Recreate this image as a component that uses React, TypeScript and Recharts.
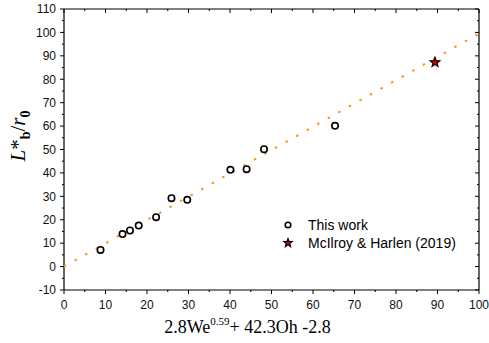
import React from 'react';
import { ScatterChart, Scatter, XAxis, YAxis } from 'recharts';

const thisWorkX = [8.8, 14.1, 15.9, 18.0, 22.2, 25.9, 29.7, 40.1, 44.0, 48.2, 65.3];
const thisWorkY = [7.1, 13.9, 15.4, 17.5, 21.1, 29.2, 28.5, 41.3, 41.6, 50.1, 60.1];
const mcIlroyX = [89.4];
const mcIlroyY = [87.2];
// linear fit endpoints
const fitX = [0, 100];
const fitY = [0, 99.5];

const xTicks = [0, 5, 10, 15, 20, 25, 30, 35, 40, 45, 50, 55, 60, 65, 70, 75, 80, 85, 90, 95, 100];
const yTicks = [-10, -5, 0, 5, 10, 15, 20, 25, 30, 35, 40, 45, 50, 55, 60, 65, 70, 75, 80, 85, 90, 95, 100, 105, 110];
const xDomain = [0, 100];
const yDomain = [-10, 110];
const seriesNames = ['This work', 'McIlroy & Harlen (2019)'];

const toPoints = (xs: number[], ys: number[]) => xs.map((x, i) => ({ x, y: ys[i] }));
const thisWork = toPoints(thisWorkX, thisWorkY);
const mcIlroy = toPoints(mcIlroyX, mcIlroyY);
const fit = toPoints(fitX, fitY);

const SANS = '"Liberation Sans", Arial, sans-serif';
const SERIF = '"Liberation Serif", "Times New Roman", serif';
const ORANGE = '#f7931e';
const MAJOR = 4;
const MINOR = 2;
const isMajor = (v: number) => Math.abs(v % 10) < 1e-6;

// chart layout
const W = 489;
const H = 343;
const MARGIN = { top: 9, right: 10, bottom: 0, left: 0 };
const X_AXIS_H = 53;
const Y_AXIS_W = 64;
const PLOT_X = MARGIN.left + Y_AXIS_W;
const PLOT_Y = MARGIN.top;
const PLOT_W = W - MARGIN.left - MARGIN.right - Y_AXIS_W;
const PLOT_H = H - MARGIN.top - MARGIN.bottom - X_AXIS_H;

const BottomTick = (props: any) => {
  const { x, y, payload } = props;
  const major = isMajor(payload.value);
  return (
    <g>
      <line x1={x} x2={x} y1={y} y2={y + (major ? MAJOR : MINOR)} stroke="#000" strokeWidth={1} />
      {major && (
        <text x={x} y={y + 19} textAnchor="middle" fontSize={12} fontFamily={SANS} fill="#111">
          {payload.value}
        </text>
      )}
    </g>
  );
};

const LeftTick = (props: any) => {
  const { x, y, payload } = props;
  const major = isMajor(payload.value);
  return (
    <g>
      <line x1={x - (major ? MAJOR : MINOR)} x2={x} y1={y} y2={y} stroke="#000" strokeWidth={1} />
      {major && (
        <text x={x - 8} y={y + 4.3} textAnchor="end" fontSize={12} fontFamily={SANS} fill="#111">
          {payload.value}
        </text>
      )}
    </g>
  );
};

const starPath = (cx: number, cy: number, ro: number, ri: number) => {
  const pts: string[] = [];
  for (let i = 0; i < 10; i++) {
    const r = i % 2 === 0 ? ro : ri;
    const a = -Math.PI / 2 + (i * Math.PI) / 5;
    pts.push(`${cx + r * Math.cos(a)},${cy + r * Math.sin(a)}`);
  }
  return `M${pts.join('L')}Z`;
};

const CircleMark = ({ cx, cy, r = 3.2 }: any) => (
  <circle cx={cx} cy={cy} r={r} fill="#fff" stroke="#000" strokeWidth={1.6} />
);

const StarMark = ({ cx, cy, ro = 5.2 }: any) => (
  <path d={starPath(cx, cy, ro, ro * 0.42)} fill="#d10000" stroke="#000" strokeWidth={1.1} />
);

// box top/right edges with inward ticks, axis titles and legend, laid over the chart
const Overlay = () => {
  const sx = (v: number) => PLOT_X + ((v - xDomain[0]) / (xDomain[1] - xDomain[0])) * PLOT_W;
  const sy = (v: number) => PLOT_Y + PLOT_H - ((v - yDomain[0]) / (yDomain[1] - yDomain[0])) * PLOT_H;
  const right = PLOT_X + PLOT_W;
  const ylx = 25;
  const yly = PLOT_Y + 127;
  return (
    <svg width={W} height={H} style={{ position: 'absolute', left: 0, top: 0, pointerEvents: 'none' }}>
      <line x1={PLOT_X} x2={right} y1={PLOT_Y} y2={PLOT_Y} stroke="#000" strokeWidth={1.2} />
      <line x1={right} x2={right} y1={PLOT_Y} y2={PLOT_Y + PLOT_H} stroke="#000" strokeWidth={1.2} />
      {xTicks.map((v) => (
        <line key={`t${v}`} x1={sx(v)} x2={sx(v)} y1={PLOT_Y} y2={PLOT_Y + (isMajor(v) ? MAJOR : MINOR)} stroke="#000" strokeWidth={1} />
      ))}
      {yTicks.map((v) => (
        <line key={`r${v}`} x1={right - (isMajor(v) ? MAJOR : MINOR)} x2={right} y1={sy(v)} y2={sy(v)} stroke="#000" strokeWidth={1} />
      ))}

      <text x={PLOT_X + PLOT_W / 2 - 24} y={PLOT_Y + PLOT_H + 43} textAnchor="middle" fontFamily={SERIF} fontSize={18} fill="#000">
        <tspan>2.8We</tspan>
        <tspan fontSize={11} dy={-8}>0.59</tspan>
        <tspan dy={8}>+ 42.3Oh -2.8</tspan>
      </text>

      <text x={ylx} y={yly} transform={`rotate(-90, ${ylx}, ${yly})`} textAnchor="middle" fontFamily={SERIF} fontSize={21} fill="#000">
        <tspan fontStyle="italic">L</tspan>
        <tspan>*</tspan>
        <tspan fontSize={14} fontWeight="bold" dy={5}>b</tspan>
        <tspan dy={-5}>/</tspan>
        <tspan fontStyle="italic">r</tspan>
        <tspan fontSize={14} fontWeight="bold" dy={5}>0</tspan>
      </text>

      <g fontFamily={SANS} fontSize={14} fill="#000">
        <CircleMark cx={288} cy={225} r={2.8} />
        <text x={308} y={230}>{seriesNames[0]}</text>
        <StarMark cx={288} cy={243} ro={4.5} />
        <text x={308} y={248}>{seriesNames[1]}</text>
      </g>
    </svg>
  );
};

const axisLine = { stroke: '#000', strokeWidth: 1.2 };

export default function App() {
  return (
    <div style={{ position: 'absolute', left: 0, top: 0, width: W, height: H, background: '#fff' }}>
      <ScatterChart width={W} height={H} margin={MARGIN}>
        <XAxis
          type="number"
          dataKey="x"
          domain={xDomain}
          ticks={xTicks}
          interval={0}
          height={X_AXIS_H}
          tickSize={0}
          tickMargin={0}
          axisLine={axisLine}
          tick={<BottomTick />}
        />
        <YAxis
          type="number"
          dataKey="y"
          domain={yDomain}
          ticks={yTicks}
          interval={0}
          width={Y_AXIS_W}
          tickSize={0}
          tickMargin={0}
          axisLine={axisLine}
          tick={<LeftTick />}
        />
        <Scatter
          data={fit}
          line={{ stroke: ORANGE, strokeWidth: 2, strokeDasharray: '2.5 9.6' }}
          lineType="joint"
          shape={() => <g />}
          isAnimationActive={false}
        />
        <Scatter name={seriesNames[0]} data={thisWork} shape={<CircleMark />} isAnimationActive={false} />
        <Scatter name={seriesNames[1]} data={mcIlroy} shape={<StarMark />} isAnimationActive={false} />
      </ScatterChart>
      <Overlay />
    </div>
  );
}
